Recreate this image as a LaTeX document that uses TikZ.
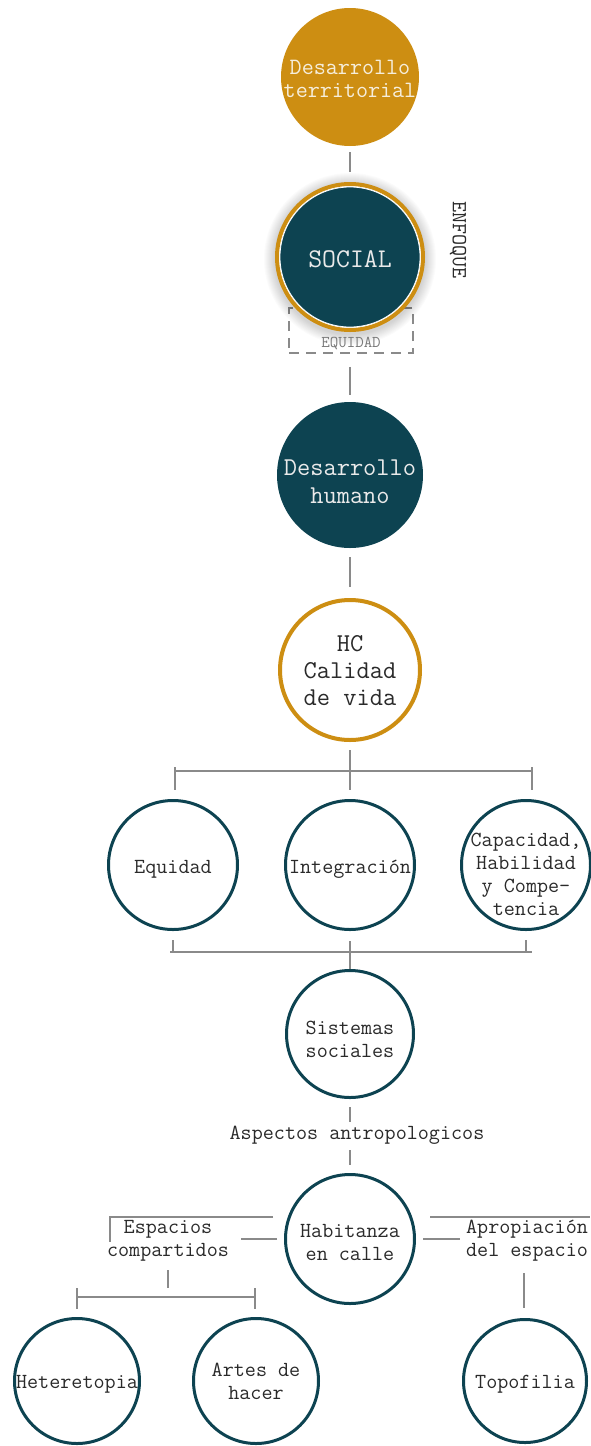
\documentclass[tikz,border=0pt]{standalone}
\definecolor{gold}{HTML}{CD8E12}
\definecolor{deepteal}{HTML}{0D4351}
\definecolor{linegray}{HTML}{8A8A8A}
\definecolor{textdark}{HTML}{2A2A2A}
\definecolor{lighttext}{HTML}{EAEAEA}
\definecolor{cream}{HTML}{F6EEDC}
\definecolor{eqgray}{HTML}{7A7A7A}
\begin{document}
\begin{tikzpicture}[x=1pt,y=-1pt,
  conn/.style={draw=linegray, line width=1.6pt},
  ring/.style={circle, draw=deepteal, line width=3pt, fill=white, inner sep=0pt, minimum size=#1},
  lbl/.style={align=center, text=textdark, inner sep=0pt, font=\ttfamily\fontsize{21.5}{23}\selectfont},
]
\useasboundingbox (0,0) rectangle (590,1446);
\fill[white] (0,0) rectangle (590,1446);

% Desarrollo territorial
\node[circle, fill=gold, minimum size=138pt, inner sep=0pt] (dt) at (350,77) {};
\node[lbl, text=cream, yshift=-2pt, font=\ttfamily\fontsize{23.4}{23}\selectfont] (dtt) at (dt) {Desarrollo\\territorial};

% SOCIAL with equidad box
\node[draw=linegray, line width=1.5pt, dash pattern=on 10pt off 7pt, minimum width=124pt, minimum height=45pt, inner sep=0pt] (eqbox) at (351,330.5) {};
\foreach \r in {76,...,86} \fill[black,opacity=0.014] (350,259) circle (\r);
\node[circle, draw=gold, line width=4pt, fill=white, minimum size=146pt, inner sep=0pt] (soc) at (350,257) {};
\node[circle, fill=deepteal, draw=white, line width=0.8pt, minimum size=140pt, inner sep=0pt] (socin) at (soc) {};
\node[lbl, text=lighttext, yshift=-2pt, font=\ttfamily\fontsize{27}{28}\selectfont] (soct) at (soc) {SOCIAL};
\node[rotate=-90, inner sep=0pt, text=textdark, font=\ttfamily\fontsize{21.5}{22}\selectfont] (enf) at (458,240) {ENFOQUE};
\node[inner sep=0pt, text=eqgray, font=\ttfamily\fontsize{16.5}{17}\selectfont] (eqt) at (351,343) {EQUIDAD};

% Desarrollo humano
\node[circle, fill=deepteal, minimum size=146pt, inner sep=0pt] (dh) at (350,475) {};
\node[lbl, text=lighttext, yshift=-7pt, font=\ttfamily\fontsize{25.7}{28}\selectfont] (dht) at (dh) {Desarrollo\\humano};

% HC
\node[circle, draw=gold, line width=4pt, fill=white, minimum size=140pt, inner sep=0pt] (hc) at (350,670) {};
\node[lbl, yshift=-1pt, font=\ttfamily\fontsize{25.7}{27}\selectfont] (hct) at (hc) {HC\\Calidad\\de vida};

\draw[conn, shorten <=6pt, shorten >=10pt] (dt.south) -- (soc.north);
\draw[conn, shorten <=13pt, shorten >=7pt] (eqbox.south -| dh.north) -- (dh.north);
\draw[conn, shorten <=9pt, shorten >=11pt] (dh.south) -- (hc.north);

% three circles
\node[ring=129pt] (eqd) at (173,865) {};
\node[ring=129pt] (integ) at (350,865) {};
\node[ring=129pt] (cap) at (526,865) {};
\node[lbl, yshift=-4pt] (eqdt) at (eqd) {Equidad};
\node[lbl, yshift=-4pt] (integt) at (integ) {Integración};
\node[lbl, yshift=-9pt] (capt) at (cap) {Capacidad,\\Habilidad\\y Compe-\\tencia};

% bracket 1
\coordinate (h1l) at (175,771);
\coordinate (h1r) at (532,771);
\draw[conn] (h1l) -- (h1r);
\draw[conn, shorten <=8pt, shorten >=9pt] (hc.south) -- (integ.north);
\draw[conn, shorten >=9pt] (h1l) ++(0,-4) -- (eqd.north -| h1l);
\draw[conn, shorten >=9pt] (h1r) ++(0,-4) -- (cap.north -| h1r);

% Sistemas sociales
\node[ring=127pt] (sis) at (350,1034) {};
\node[lbl, yshift=-5pt] (sist) at (sis) {Sistemas\\sociales};

% bracket 2
\coordinate (h2l) at (170,952);
\coordinate (h2r) at (532,952);
\draw[conn] (h2l) -- (h2r);
\draw[conn, shorten <=9pt] (eqd.south) -- (eqd.south |- h2l);
\draw[conn, shorten <=9pt] (cap.south) -- (cap.south |- h2l);
\draw[conn, shorten <=10pt] (integ.south) -- (sis.north);

% Aspectos antropologicos
\node[lbl] (asp) at (357,1135) {Aspectos antropologicos};
\coordinate (a1) at (350,1122);
\coordinate (a2) at (350,1150);

% Habitanza en calle
\node[ring=129pt] (hab) at (350,1239) {};
\node[lbl, yshift=-3pt] (habt) at (hab) {Habitanza\\en calle};
\draw[conn, shorten <=8pt] (sis.south) -- (a1);
\draw[conn, shorten >=8pt] (a2) -- (hab.north);

% left branch
\node[lbl, yshift=-2pt] (esp) at (168,1239) {Espacios\\compartidos};
\coordinate (lt) at (273,1217);
\coordinate (lc) at (110,1217);
\draw[conn] (lt) -- (lc) -- ++(0,25);
\draw[conn, shorten <=7pt, shorten >=12pt] (hab.west) -- (hab.west -| esp.east);
\coordinate (e1) at (168,1270);
\draw[conn] (e1) -- ++(0,18);
\coordinate (h3l) at (77,1297);
\coordinate (h3r) at (255,1297);
\draw[conn] (h3l) -- (h3r);

% right branch
\node[lbl, yshift=-2pt] (apr) at (527,1239) {Apropiación\\del espacio};
\coordinate (rt1) at (430,1217);
\coordinate (rt2) at (590,1217);
\draw[conn] (rt1) -- (rt2);
\draw[conn, shorten <=7pt, shorten >=6pt] (hab.east) -- (hab.east -| apr.west);
\coordinate (r3) at (524,1273);

% bottom circles
\node[ring=125pt] (het) at (77,1381) {};
\node[ring=125pt] (art) at (256,1381) {};
\node[ring=123pt] (topo) at (525,1381) {};
\node[lbl, yshift=-3pt] (hett) at (het) {Heteretopia};
\node[lbl] (artt) at (art) {Artes de\\hacer};
\node[lbl, yshift=-3pt] (topot) at (topo) {Topofilia};

\draw[conn, shorten >=8pt] (h3l) ++(0,-9) -- (het.north);
\draw[conn, shorten >=8pt] (h3r) ++(0,-9) -- (art.north -| h3r);
\draw[conn, shorten >=10pt] (r3) -- (topo.north -| r3);
\end{tikzpicture}
\end{document}
